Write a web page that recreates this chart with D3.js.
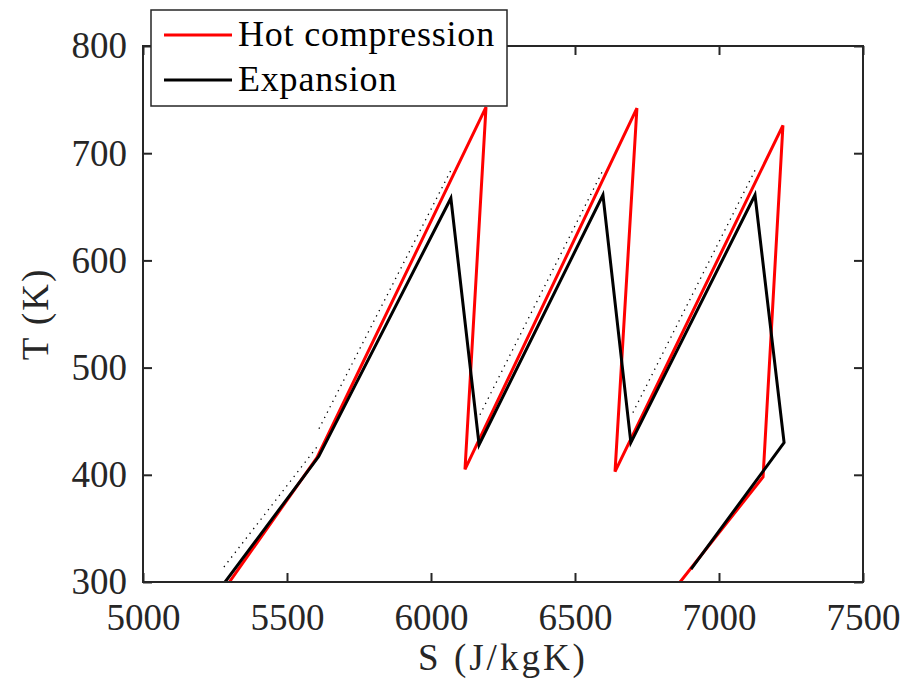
<!DOCTYPE html>
<html>
<head>
<meta charset="utf-8">
<script src="https://cdn.jsdelivr.net/npm/d3@7"></script>
<style>
  body { margin: 0; background: #fff; }
  text { font-family: "Liberation Serif", "DejaVu Serif", serif; }
</style>
</head>
<body>
<div id="chart"></div>
<script>
// entropy (J/kgK) and temperature (K)
const sHot = [5300, 5604, 6191, 6118, 6715, 6639, 7222, 7153, 6865];
const tHot = [300, 416, 743, 405, 742, 403, 726, 398, 300];
const sExp = [5285, 5610, 6069, 6167, 6597, 6694, 7125, 7226, 6903];
const tExp = [300, 417, 658, 428, 661, 430, 661, 430, 312];

// dotted reference lines (start, end)
const refS = [[5281, 5604], [5611, 6069], [6170, 6597], [6701, 7125]];
const refT = [[314, 426], [443, 684], [456, 684], [458, 684]];

const xTicks = [5000, 5500, 6000, 6500, 7000, 7500];
const yTicks = [300, 400, 500, 600, 700, 800];

const width = 912;
const height = 687;
const margin = { top: 46, right: 49, bottom: 105, left: 143 };
const axisColor = "#262626";

const svg = d3.select("#chart").append("svg").attr("width", width).attr("height", height);

const xScale = d3.scaleLinear().domain([5000, 7500]).range([margin.left, width - margin.right]);
const yScale = d3.scaleLinear().domain([300, 800]).range([height - margin.bottom, margin.top]);

svg.append("clipPath").attr("id", "plotClip").append("rect")
    .attr("x", margin.left).attr("y", margin.top)
    .attr("width", xScale.range()[1] - margin.left)
    .attr("height", yScale.range()[0] - margin.top);

const plot = svg.append("g").attr("clip-path", "url(#plotClip)");

const line = d3.line().x(d => xScale(d[0])).y(d => yScale(d[1]));

refS.forEach((s, i) => {
    plot.append("path").datum(d3.zip(s, refT[i]))
        .attr("fill", "none").attr("stroke", "#000").attr("stroke-width", 1.3)
        .attr("stroke-dasharray", "1.3,4.7").attr("d", line);
});

plot.append("path").datum(d3.zip(sHot, tHot))
    .attr("fill", "none").attr("stroke", "#ff0000").attr("stroke-width", 3)
    .attr("stroke-linejoin", "miter").attr("d", line);

plot.append("path").datum(d3.zip(sExp, tExp))
    .attr("fill", "none").attr("stroke", "#000").attr("stroke-width", 3)
    .attr("stroke-linejoin", "miter").attr("d", line);

// axes, ticks pointing inwards on all four sides
const x0 = margin.left, x1 = xScale.range()[1];
const y0 = yScale.range()[0], y1 = margin.top;

svg.append("g").attr("transform", `translate(0, ${y0})`)
    .call(d3.axisBottom(xScale).tickValues(xTicks).tickSize(-9).tickSizeOuter(0).tickPadding(22).tickFormat(d3.format("d")))
    .call(g => g.selectAll("text").attr("font-size", 37).attr("fill", axisColor).attr("font-family", "Liberation Serif"));
svg.append("g").attr("transform", `translate(0, ${y1})`)
    .call(d3.axisTop(xScale).tickValues(xTicks).tickSize(-9).tickSizeOuter(0).tickFormat(""));
svg.append("g").attr("transform", `translate(${x0}, 0)`)
    .call(d3.axisLeft(yScale).tickValues(yTicks).tickSize(-9).tickSizeOuter(0).tickPadding(16).tickFormat(d3.format("d")))
    .call(g => g.selectAll("text").attr("font-size", 37).attr("fill", axisColor).attr("font-family", "Liberation Serif"));
svg.append("g").attr("transform", `translate(${x1}, 0)`)
    .call(d3.axisRight(yScale).tickValues(yTicks).tickSize(-9).tickSizeOuter(0).tickFormat(""));

svg.selectAll(".domain").remove();
svg.selectAll(".tick line").attr("stroke", axisColor).attr("stroke-width", 2);

svg.append("rect").attr("x", x0).attr("y", y1).attr("width", x1 - x0).attr("height", y0 - y1)
    .attr("fill", "none").attr("stroke", axisColor).attr("stroke-width", 2);

svg.append("text").attr("x", (x0 + x1) / 2).attr("y", 670).attr("text-anchor", "middle")
    .attr("font-size", 37).attr("letter-spacing", 3).attr("fill", axisColor).text("S (J/kgK)");
svg.append("text").attr("transform", "rotate(-90)").attr("x", -(y0 + y1) / 2).attr("y", 48)
    .attr("text-anchor", "middle").attr("font-size", 37).attr("letter-spacing", 2).attr("fill", axisColor).text("T (K)");

// legend
const legendItems = [
    { label: "Hot compression", color: "#ff0000" },
    { label: "Expansion", color: "#000" }
];
const legend = svg.append("g");
legend.append("rect").attr("x", 151).attr("y", 10).attr("width", 356).attr("height", 96)
    .attr("fill", "#fff").attr("stroke", axisColor).attr("stroke-width", 1.5);
legend.selectAll("g.item").data(legendItems).enter().append("g").attr("class", "item")
    .each(function(d, i) {
        const g = d3.select(this);
        const yy = 35 + i * 45;
        g.append("line").attr("x1", 164).attr("x2", 232).attr("y1", yy).attr("y2", yy)
            .attr("stroke", d.color).attr("stroke-width", 3);
        g.append("text").attr("x", 238).attr("y", yy + 11).attr("font-size", 36)
            .attr("letter-spacing", 0.8).attr("fill", "#000").text(d.label);
    });
</script>
</body>
</html>
